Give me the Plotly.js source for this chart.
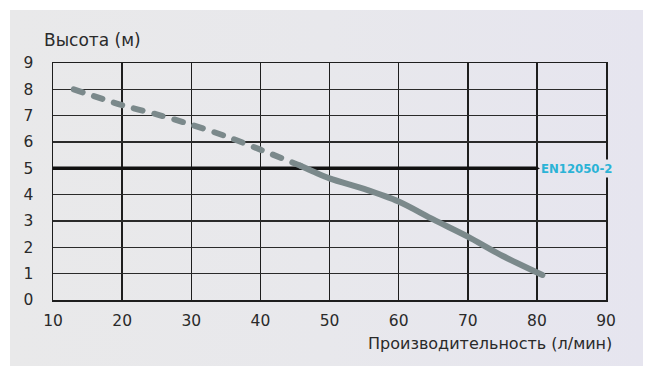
<!DOCTYPE html>
<html>
<head>
<meta charset="utf-8">
<script src="https://cdn.plot.ly/plotly-3.0.1.min.js"></script>
<style>
  html, body { margin: 0; padding: 0; background: #ffffff; }
  #panel { position: absolute; left: 10px; top: 10px; width: 633px; height: 356px;
           background: linear-gradient(to right, #e9e9ea, #e8e8ec 50%, #e6e5ef); }
  #chart { position: absolute; left: 0; top: 0; width: 653px; height: 377px; }
  #chart .scatterlayer path.js-line { stroke-linecap: round; }
</style>
</head>
<body>
<div id="panel"></div>
<div id="chart"></div>
<script>
// Data
const dashedFlow = [13, 20, 25, 30, 35, 40, 45.8];
const dashedHead = [8.0, 7.4, 7.05, 6.66, 6.22, 5.71, 5.1];
const solidFlow = [45.8, 50, 55, 60, 65, 70, 75, 80.8];
const solidHead = [5.1, 4.62, 4.22, 3.74, 3.06, 2.41, 1.68, 0.95];
const standardFlow = [10, 80];
const standardHead = [5, 5];
const standardLabel = 'EN12050-2';
const xTicks = [10, 20, 30, 40, 50, 60, 70, 80, 90];
const yTicks = [0, 1, 2, 3, 4, 5, 6, 7, 8, 9];
const yTitle = 'Высота (м)';
const xTitle = 'Производительность (л/мин)';

const curveColor = '#7b898b';
const textFont = '"DejaVu Sans", "Noto Sans", sans-serif';
const textColor = '#2a2a2a';

const traces = [
  { x: standardFlow, y: standardHead, mode: 'lines', type: 'scatter',
    line: { color: '#111111', width: 3.5 }, hoverinfo: 'skip' },
  { x: dashedFlow, y: dashedHead, mode: 'lines', type: 'scatter',
    line: { color: curveColor, width: 6, dash: '9px,12px', shape: 'spline', smoothing: 0.8 }, hoverinfo: 'skip' },
  { x: solidFlow, y: solidHead, mode: 'lines', type: 'scatter',
    line: { color: curveColor, width: 6, shape: 'spline', smoothing: 0.8 }, hoverinfo: 'skip' }
];

const layout = {
  width: 653, height: 377,
  margin: { l: 53, r: 47, t: 63, b: 77 },
  paper_bgcolor: 'rgba(0,0,0,0)',
  plot_bgcolor: 'rgba(0,0,0,0)',
  showlegend: false,
  font: { family: textFont, color: textColor, size: 15 },
  xaxis: {
    range: [10, 90], tickvals: xTicks, ticktext: xTicks.map(String),
    showgrid: true, gridcolor: '#1e1e1e', gridwidth: 1.5,
    showline: true, linecolor: '#1e1e1e', linewidth: 1.5, mirror: true,
    zeroline: false, ticks: '', ticklabelstandoff: 6,
    tickfont: { family: textFont, size: 15.5, color: textColor }
  },
  yaxis: {
    range: [0, 9], tickvals: yTicks, ticktext: yTicks.map(String),
    showgrid: true, gridcolor: '#2a2a2a', gridwidth: 1.5,
    showline: true, linecolor: '#1e1e1e', linewidth: 1.5, mirror: true,
    zeroline: false, ticks: '', ticklabelstandoff: 15,
    tickfont: { family: textFont, size: 15.5, color: textColor }
  },
  annotations: [
    { text: yTitle, xref: 'paper', yref: 'paper', x: -0.02, y: 1.097,
      xanchor: 'left', yanchor: 'middle', showarrow: false,
      font: { family: textFont, size: 17, color: textColor } },
    { text: xTitle, xref: 'paper', yref: 'paper', x: 1.0145, y: -0.185,
      xanchor: 'right', yanchor: 'middle', showarrow: false,
      font: { family: textFont, size: 16, color: textColor } },
    { text: '<b>' + standardLabel + '</b>', xref: 'x', yref: 'y',
      x: standardFlow[1], y: standardHead[1], xanchor: 'left', yanchor: 'middle',
      xshift: 2, showarrow: false, bgcolor: '#e6e5ee', borderpad: 1,
      font: { family: '"Liberation Sans Narrow", "DejaVu Sans Condensed", sans-serif', size: 13, color: '#2bb3d6' } }
  ]
};

Plotly.newPlot('chart', traces, layout, { staticPlot: true, displayModeBar: false });
</script>
</body>
</html>
